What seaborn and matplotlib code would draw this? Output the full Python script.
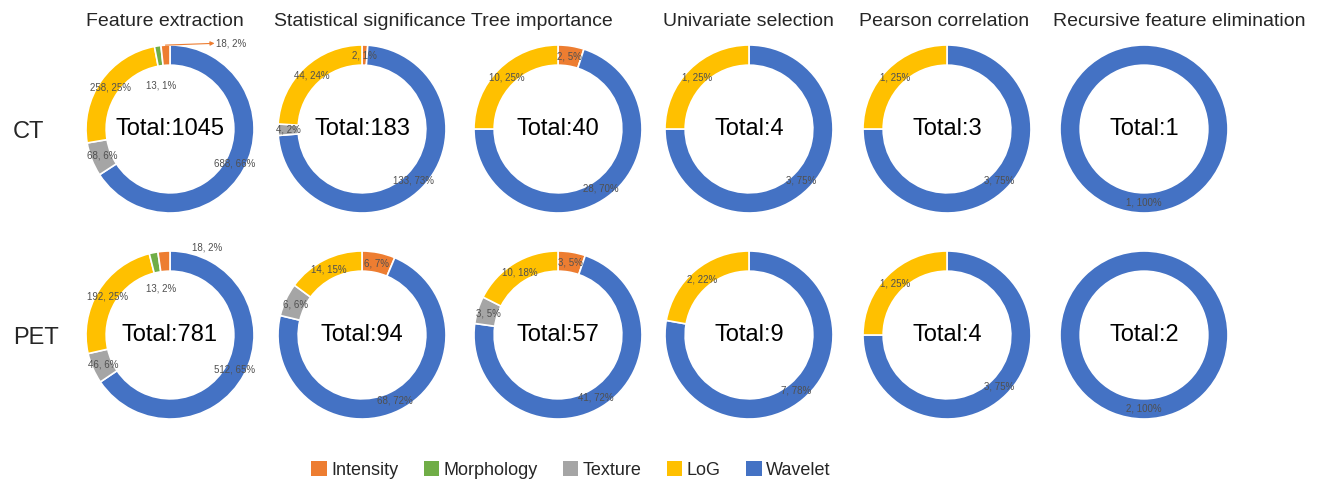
import numpy as np
import matplotlib
matplotlib.use("Agg")
import matplotlib.pyplot as plt
import matplotlib.patches as mpatches
import seaborn as sns

# categories and colours (Excel office palette)
categories = ["Intensity", "Morphology", "Texture", "LoG", "Wavelet"]
palette = {"Intensity": "#ED7D31", "Morphology": "#70AD47", "Texture": "#A5A5A5",
           "LoG": "#FFC000", "Wavelet": "#4472C4"}

methods = ["Feature extraction", "Statistical significance", "Tree importance",
           "Univariate selection", "Pearson correlation", "Recursive feature elimination"]
rows = ["CT", "PET"]

# counts per method, in category order
ct_counts = [[18, 13, 68, 258, 688], [2, 0, 4, 44, 133], [2, 0, 0, 10, 28],
             [0, 0, 0, 1, 3], [0, 0, 0, 1, 3], [0, 0, 0, 0, 1]]
ct_pct = [[2, 1, 6, 25, 66], [1, 0, 2, 24, 73], [5, 0, 0, 25, 70],
          [0, 0, 0, 25, 75], [0, 0, 0, 25, 75], [0, 0, 0, 0, 100]]
ct_totals = [1045, 183, 40, 4, 3, 1]

pet_counts = [[18, 13, 46, 192, 512], [6, 0, 6, 14, 68], [3, 0, 3, 10, 41],
              [0, 0, 0, 2, 7], [0, 0, 0, 1, 3], [0, 0, 0, 0, 2]]
pet_pct = [[2, 2, 6, 25, 65], [7, 0, 6, 15, 72], [5, 0, 5, 18, 72],
           [0, 0, 0, 22, 78], [0, 0, 0, 25, 75], [0, 0, 0, 0, 100]]
pet_totals = [781, 94, 57, 9, 4, 2]

# clockwise wedge order used by each chart
order_fe = ["Wavelet", "Texture", "LoG", "Morphology", "Intensity"]
order_other = ["Intensity", "Morphology", "Wavelet", "Texture", "LoG"]

sns.set_theme(style="white")
plt.rcParams["font.family"] = ["Liberation Sans", "DejaVu Sans"]

W, H = 1326, 483
fig = plt.figure(figsize=(W / 100, H / 100), dpi=100)

col_x = [170, 362, 558, 749, 947, 1144]
row_y = [129, 335]
title_x = [165, 370, 542, 748, 944, 1179]
R_PX = 84
LIM = 1.3
box = 2 * LIM * R_PX
label_col = "#505050"

# hand placed labels for the thin wedges in the first column
fe_override = {
    0: {"Intensity": (0.55, 1.02, True), "Morphology": (-0.1, 0.52, False)},
    1: {"Intensity": (0.44, 1.04, False), "Morphology": (-0.1, 0.55, False)},
}

data = [(ct_counts, ct_pct, ct_totals), (pet_counts, pet_pct, pet_totals)]

for r, (counts, pcts, totals) in enumerate(data):
    for c in range(len(methods)):
        cx, cy = col_x[c], row_y[r]
        ax = fig.add_axes([(cx - box / 2) / W, (H - cy - box / 2) / H, box / W, box / H])
        order = order_fe if c == 0 else order_other
        vals = {k: v for k, v in zip(categories, counts[c])}
        pct = {k: v for k, v in zip(categories, pcts[c])}
        keys = [k for k in order if vals[k] > 0]
        wedges, _ = ax.pie([vals[k] for k in keys], colors=[palette[k] for k in keys],
                           startangle=90, counterclock=False, radius=1.0,
                           wedgeprops=dict(width=0.24, edgecolor="white", linewidth=1.2))
        ax.set_xlim(-LIM, LIM)
        ax.set_ylim(-LIM, LIM)
        ax.set_aspect("equal")
        ax.axis("off")

        for k, w in zip(keys, wedges):
            txt = f"{vals[k]}, {pct[k]}%"
            mid = np.deg2rad((w.theta1 + w.theta2) / 2)
            ov = fe_override[r].get(k) if c == 0 else None
            if ov is not None:
                tx, ty, arrow = ov
                if arrow:
                    # leader line from the wedge to its label
                    ax.annotate("", xy=(tx - 0.02, ty), xytext=(np.cos(mid), np.sin(mid)),
                                arrowprops=dict(arrowstyle="-|>", color=palette[k], lw=0.8,
                                                mutation_scale=6, shrinkA=0, shrinkB=0))
                    ax.text(tx, ty, txt, fontsize=7, color=label_col, ha="left", va="center")
                else:
                    ax.text(tx, ty, txt, fontsize=7, color=label_col, ha="center", va="center")
                continue
            ax.text(0.87 * np.cos(mid), 0.87 * np.sin(mid), txt, fontsize=7,
                    color=label_col, ha="center", va="center")

        ax.text(0, 0, f"Total:{totals[c]}", fontsize=17, color="black",
                ha="center", va="center")

for c, m in enumerate(methods):
    fig.text(title_x[c] / W, 1 - 22 / H, m, fontsize=14, ha="center", va="center")

for r, name in enumerate(rows):
    fig.text(13 / W, 1 - (row_y[r] + 3) / H, name, fontsize=17, ha="left", va="center")

handles = [mpatches.Patch(facecolor=palette[k], edgecolor="none", label=k) for k in categories]
fig.legend(handles=handles, loc="center", bbox_to_anchor=(571 / W, 13 / H), ncol=5,
           frameon=False, fontsize=13, handlelength=0.85, handleheight=0.85,
           handletextpad=0.25, columnspacing=1.4)

fig.savefig("out.png", dpi=100)
